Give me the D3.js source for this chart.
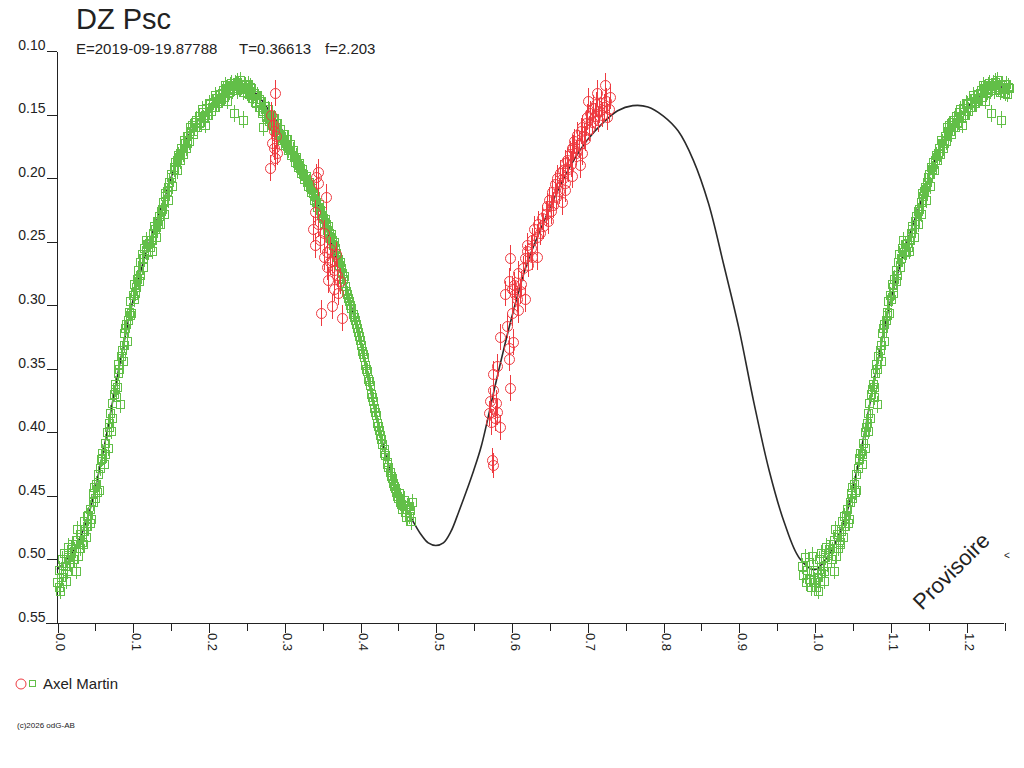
<!DOCTYPE html>
<meta charset="utf-8">
<script src="https://d3js.org/d3.v7.min.js"></script>
<style>
  body { margin: 0; background: #fff; }
  text { font-family: Arial, "Liberation Sans", sans-serif; fill: #222; }
</style>
<div id="divsvg"></div>
<script>

// ---- data ----
var title = "DZ Psc";
var subtitle = ["E=2019-09-19.87788", "T=0.36613", "f=2.203"];
var observer = "Axel Martin";
var watermark = "Provisoire";
var yTicks = [0.10, 0.15, 0.20, 0.25, 0.30, 0.35, 0.40, 0.45, 0.50, 0.55];
var xMajor = [0.0, 0.1, 0.2, 0.3, 0.4, 0.5, 0.6, 0.7, 0.8, 0.9, 1.0, 1.1, 1.2];
var xMinor = [0.05, 0.15, 0.25, 0.35, 0.45, 0.55, 0.65, 0.75, 0.85, 0.95, 1.05, 1.15, 1.25];

// fitted light curve (one cycle), repeated past phase 1
var curvePhase = [0.00, 0.02, 0.04, 0.06, 0.08, 0.10, 0.12, 0.14, 0.16, 0.18, 0.20, 0.22, 0.24, 0.26, 0.28, 0.30,
  0.32, 0.34, 0.36, 0.38, 0.40, 0.42, 0.44, 0.46, 0.47, 0.48, 0.49, 0.50, 0.51, 0.52, 0.53, 0.54, 0.55, 0.56,
  0.58, 0.60, 0.62, 0.64, 0.66, 0.68, 0.70, 0.72, 0.74, 0.76, 0.78, 0.80, 0.82, 0.84, 0.86, 0.88, 0.90, 0.92,
  0.94, 0.96, 0.98, 1.00];
var curveMag = [0.508, 0.495, 0.468, 0.418, 0.355, 0.297, 0.254, 0.219, 0.184, 0.160, 0.145, 0.134, 0.128, 0.132, 0.147, 0.165,
  0.187, 0.213, 0.248, 0.283, 0.328, 0.384, 0.430, 0.459, 0.470, 0.480, 0.487, 0.489, 0.487, 0.478, 0.463, 0.447, 0.430, 0.411,
  0.359, 0.310, 0.268, 0.238, 0.211, 0.188, 0.170, 0.157, 0.147, 0.143, 0.144, 0.151, 0.163, 0.186, 0.220, 0.268, 0.318, 0.377,
  0.430, 0.471, 0.499, 0.508];

// observer series (green squares)
var greenPhase = [0.000, 0.002, 0.003, 0.005, 0.006, 0.008, 0.009, 0.011, 0.012, 0.014, 0.015, 0.017, 0.018, 0.020, 0.021, 0.023,
  0.025, 0.026, 0.028, 0.030, 0.031, 0.033, 0.035, 0.036, 0.038, 0.040, 0.041, 0.043, 0.045, 0.047, 0.048, 0.050,
  0.052, 0.054, 0.055, 0.057, 0.059, 0.060, 0.062, 0.064, 0.066, 0.067, 0.069, 0.070, 0.072, 0.073, 0.075, 0.077,
  0.078, 0.080, 0.081, 0.083, 0.084, 0.086, 0.087, 0.089, 0.090, 0.092, 0.094, 0.095, 0.097, 0.098, 0.100, 0.102,
  0.103, 0.105, 0.107, 0.108, 0.110, 0.112, 0.113, 0.115, 0.117, 0.118, 0.120, 0.122, 0.124, 0.125, 0.127, 0.129,
  0.131, 0.132, 0.134, 0.136, 0.138, 0.140, 0.141, 0.143, 0.145, 0.147, 0.148, 0.150, 0.152, 0.154, 0.156, 0.158,
  0.160, 0.162, 0.164, 0.166, 0.168, 0.170, 0.172, 0.174, 0.176, 0.178, 0.180, 0.182, 0.185, 0.187, 0.189, 0.191,
  0.193, 0.195, 0.197, 0.199, 0.201, 0.203, 0.206, 0.208, 0.210, 0.212, 0.214, 0.216, 0.219, 0.221, 0.223, 0.225,
  0.227, 0.229, 0.231, 0.233, 0.235, 0.237, 0.239, 0.241, 0.243, 0.245, 0.246, 0.248, 0.250, 0.252, 0.254, 0.256,
  0.258, 0.260, 0.262, 0.264, 0.266, 0.268, 0.270, 0.272, 0.274, 0.276, 0.278, 0.280, 0.282, 0.284, 0.286, 0.288,
  0.290, 0.293, 0.295, 0.297, 0.299, 0.301, 0.303, 0.305, 0.307, 0.309, 0.312, 0.314, 0.316, 0.318, 0.320, 0.322,
  0.324, 0.326, 0.329, 0.331, 0.333, 0.335, 0.337, 0.339, 0.341, 0.343, 0.346, 0.348, 0.350, 0.352, 0.354, 0.356,
  0.358, 0.360, 0.362, 0.364, 0.366, 0.368, 0.370, 0.372, 0.374, 0.376, 0.378, 0.380, 0.382, 0.384, 0.386, 0.388,
  0.391, 0.393, 0.395, 0.397, 0.399, 0.401, 0.403, 0.405, 0.407, 0.409, 0.411, 0.413, 0.415, 0.417, 0.419, 0.421,
  0.423, 0.425, 0.427, 0.429, 0.431, 0.433, 0.435, 0.437, 0.440, 0.442, 0.444, 0.446, 0.448, 0.450, 0.452, 0.454,
  0.456, 0.458, 0.460, 0.462, 0.464, 0.466, 0.468,
  0.983, 0.985, 0.987, 0.989, 0.990, 0.992, 0.993, 0.995, 0.996, 0.998, 0.999,
  0.004, 0.013, 0.019, 0.027, 0.034, 0.039, 0.044, 0.049, 0.053, 0.058, 0.063, 0.068, 0.071, 0.076, 0.079, 0.082,
  0.088, 0.091, 0.096, 0.101, 0.104, 0.109, 0.114, 0.119, 0.123, 0.128, 0.133, 0.137, 0.142, 0.146, 0.151, 0.155,
  0.159, 0.163, 0.167, 0.171, 0.175, 0.179, 0.184, 0.188, 0.192, 0.196, 0.200, 0.205, 0.209, 0.213, 0.218, 0.222,
  0.226, 0.230, 0.234, 0.238, 0.242, 0.247, 0.251, 0.255, 0.259, 0.263, 0.267, 0.271, 0.275, 0.279, 0.283, 0.287,
  0.291, 0.296, 0.300, 0.304, 0.308, 0.313, 0.317, 0.321, 0.325, 0.330, 0.334, 0.338, 0.342, 0.347, 0.351, 0.355,
  0.359, 0.363, 0.367, 0.371, 0.375, 0.379, 0.383, 0.387, 0.392, 0.396, 0.400, 0.404, 0.408, 0.412, 0.416, 0.420,
  0.424, 0.428, 0.432, 0.436, 0.441, 0.445, 0.449, 0.453, 0.457, 0.461, 0.465, 0.467];
var greenMag = [0.518, 0.522, 0.508, 0.514, 0.500, 0.511, 0.495, 0.505, 0.517, 0.498, 0.490, 0.503, 0.495, 0.488, 0.500, 0.493,
  0.509, 0.485, 0.497, 0.480, 0.491, 0.486, 0.478, 0.470, 0.482, 0.474, 0.465, 0.460, 0.468, 0.455, 0.448, 0.452,
  0.441, 0.433, 0.445, 0.428, 0.420, 0.416, 0.425, 0.408, 0.400, 0.412, 0.393, 0.385, 0.377, 0.389, 0.370, 0.362,
  0.372, 0.353, 0.346, 0.378, 0.340, 0.335, 0.344, 0.322, 0.318, 0.328, 0.312, 0.305, 0.297, 0.306, 0.292, 0.283,
  0.290, 0.279, 0.272, 0.281, 0.266, 0.260, 0.270, 0.255, 0.249, 0.258, 0.258, 0.251, 0.249, 0.257, 0.243, 0.240,
  0.246, 0.234, 0.230, 0.236, 0.224, 0.219, 0.228, 0.214, 0.210, 0.217, 0.203, 0.199, 0.206, 0.191, 0.187, 0.194,
  0.182, 0.186, 0.176, 0.181, 0.172, 0.176, 0.167, 0.171, 0.163, 0.158, 0.165, 0.156, 0.160, 0.151, 0.156, 0.148,
  0.153, 0.158, 0.145, 0.150, 0.142, 0.147, 0.140, 0.144, 0.137, 0.141, 0.134, 0.138, 0.131, 0.136, 0.129, 0.139,
  0.132, 0.127, 0.131, 0.149, 0.125, 0.131, 0.127, 0.123, 0.128, 0.132, 0.154, 0.127, 0.130, 0.126, 0.134, 0.129,
  0.137, 0.133, 0.140, 0.135, 0.144, 0.139, 0.147, 0.160, 0.143, 0.151, 0.146, 0.155, 0.150, 0.158, 0.153, 0.162,
  0.157, 0.166, 0.161, 0.170, 0.165, 0.174, 0.169, 0.178, 0.173, 0.182, 0.178, 0.187, 0.183, 0.191, 0.188, 0.196,
  0.193, 0.201, 0.198, 0.206, 0.203, 0.211, 0.208, 0.217, 0.214, 0.223, 0.220, 0.229, 0.226, 0.235, 0.232, 0.241,
  0.238, 0.247, 0.244, 0.253, 0.250, 0.259, 0.262, 0.268, 0.266, 0.275, 0.279, 0.285, 0.289, 0.294, 0.297, 0.302,
  0.307, 0.312, 0.315, 0.321, 0.324, 0.331, 0.336, 0.341, 0.347, 0.352, 0.358, 0.363, 0.370, 0.375, 0.381, 0.386,
  0.393, 0.398, 0.402, 0.409, 0.413, 0.418, 0.423, 0.427, 0.431, 0.436, 0.440, 0.444, 0.447, 0.452, 0.448, 0.456,
  0.460, 0.453, 0.463, 0.458, 0.466, 0.461, 0.455,
  0.505, 0.512, 0.498, 0.518, 0.508, 0.502, 0.515, 0.522, 0.497, 0.510, 0.516,
  0.525, 0.509, 0.492, 0.476, 0.488, 0.466, 0.471, 0.443, 0.447, 0.421, 0.417, 0.396, 0.399, 0.366, 0.364, 0.350,
  0.331, 0.315, 0.308, 0.295, 0.286, 0.276, 0.263, 0.252, 0.254, 0.238, 0.236, 0.226, 0.212, 0.207, 0.197, 0.193,
  0.186, 0.180, 0.170, 0.172, 0.160, 0.163, 0.154, 0.157, 0.146, 0.150, 0.141, 0.144, 0.135, 0.139, 0.133, 0.127,
  0.130, 0.125, 0.129, 0.124, 0.130, 0.126, 0.133, 0.128, 0.135, 0.141, 0.138, 0.149, 0.146, 0.152, 0.154, 0.159,
  0.160, 0.167, 0.169, 0.175, 0.178, 0.183, 0.188, 0.192, 0.197, 0.203, 0.207, 0.212, 0.219, 0.225, 0.231, 0.236,
  0.243, 0.249, 0.255, 0.264, 0.271, 0.277, 0.291, 0.300, 0.309, 0.318, 0.327, 0.338, 0.350, 0.360, 0.372, 0.384,
  0.395, 0.405, 0.416, 0.425, 0.434, 0.442, 0.450, 0.455, 0.457, 0.467, 0.458, 0.470];
var greenErr = 0.0065;

// second observer series (red circles)
var redPhase = [0.288, 0.283, 0.285, 0.287, 0.289, 0.284, 0.286, 0.290, 0.288, 0.281,
  0.342, 0.344, 0.345, 0.355, 0.340, 0.338, 0.345, 0.341, 0.347, 0.352, 0.356, 0.360, 0.358, 0.363, 0.366,
  0.370, 0.374, 0.371, 0.349, 0.363, 0.376, 0.352, 0.357, 0.361, 0.366, 0.368,
  0.576, 0.574, 0.585, 0.570, 0.581, 0.572, 0.576, 0.598, 0.576, 0.581, 0.596, 0.596, 0.602, 0.585, 0.594, 0.600,
  0.609, 0.591, 0.605, 0.618, 0.596, 0.611, 0.609, 0.598, 0.618, 0.620, 0.627, 0.633, 0.620, 0.627, 0.633, 0.638,
  0.578, 0.573, 0.579, 0.600, 0.603, 0.607, 0.613, 0.615, 0.622, 0.625, 0.630, 0.635, 0.640, 0.642, 0.645, 0.647,
  0.648, 0.650, 0.652, 0.654, 0.655, 0.657, 0.659, 0.660, 0.662, 0.664, 0.666, 0.667, 0.668, 0.670, 0.671, 0.671,
  0.673, 0.675, 0.677, 0.678, 0.680, 0.680, 0.681, 0.683, 0.685, 0.687, 0.689, 0.690, 0.691, 0.693, 0.693, 0.695,
  0.697, 0.698, 0.700, 0.701, 0.702, 0.704, 0.706, 0.708, 0.710, 0.711, 0.713, 0.714, 0.716, 0.718, 0.720, 0.722,
  0.723, 0.725, 0.726, 0.728, 0.730];
var redMag = [0.133, 0.150, 0.158, 0.163, 0.167, 0.172, 0.176, 0.180, 0.184, 0.192,
  0.199, 0.204, 0.195, 0.215, 0.227, 0.240, 0.236, 0.253, 0.249, 0.243, 0.258, 0.266, 0.280, 0.265, 0.272,
  0.276, 0.281, 0.290, 0.306, 0.301, 0.310, 0.262, 0.270, 0.256, 0.287, 0.260,
  0.426, 0.422, 0.396, 0.385, 0.384, 0.375, 0.367, 0.365, 0.354, 0.348, 0.342, 0.334, 0.329, 0.325, 0.316, 0.306,
  0.304, 0.291, 0.291, 0.295, 0.281, 0.289, 0.275, 0.263, 0.263, 0.257, 0.262, 0.262, 0.253, 0.249, 0.246, 0.243,
  0.389, 0.392, 0.377, 0.287, 0.284, 0.295, 0.283, 0.271, 0.268, 0.255, 0.240, 0.236, 0.231, 0.238, 0.228, 0.222,
  0.234, 0.217, 0.226, 0.211, 0.221, 0.205, 0.215, 0.200, 0.210, 0.196, 0.219, 0.201, 0.194, 0.188, 0.204, 0.209,
  0.186, 0.193, 0.181, 0.189, 0.198, 0.176, 0.176, 0.171, 0.180, 0.166, 0.174, 0.190, 0.163, 0.160, 0.180, 0.167,
  0.169, 0.157, 0.152, 0.139, 0.161, 0.149, 0.156, 0.145, 0.151, 0.142, 0.133, 0.154, 0.147, 0.141, 0.150, 0.144,
  0.127, 0.139, 0.152, 0.146, 0.136];
var redErr = 0.010;

// ---- drawing ----
var W = 1024, H = 768;
var svg = d3.select("#divsvg").append("svg")
  .attr("width", W).attr("height", H);

var x = d3.scaleLinear().domain([0, 1.25]).range([57, 1004]);
var y = d3.scaleLinear().domain([0.10, 0.55]).range([51, 623]);

var green = "#62bf48", red = "#ee3a40", ink = "#222";

// title block
svg.append("text").attr("x", 76).attr("y", 29).style("font-size", "29px").text(title);
var subX = [76, 239, 325];
svg.selectAll(".sub").data(subtitle).join("text")
  .attr("x", function(d, i) { return subX[i]; })
  .attr("y", 54).style("font-size", "15px").text(function(d) { return d; });

// y axis
var yAxis = svg.append("g").attr("transform", "translate(56.5,0)")
  .style("shape-rendering", "crispEdges")
  .call(d3.axisLeft(y).tickValues(yTicks).tickSize(10).tickSizeOuter(0).tickFormat(d3.format(".2f")));
yAxis.select(".domain").attr("stroke", ink);
yAxis.selectAll("line").attr("stroke", ink);
yAxis.selectAll("text").attr("x", -11).attr("dy", "-0.12em")
  .style("font-size", "14px").style("font-family", "Arial, 'Liberation Sans', sans-serif").attr("fill", ink);

// x axis
svg.append("line").attr("x1", 46).attr("x2", x(1.25)).attr("y1", 623.5).attr("y2", 623.5)
  .attr("stroke", ink).style("shape-rendering", "crispEdges");
var xAxisMajor = svg.append("g").attr("transform", "translate(0.5,623)")
  .style("shape-rendering", "crispEdges")
  .call(d3.axisBottom(x).tickValues(xMajor).tickSize(10).tickFormat(""));
xAxisMajor.select(".domain").remove();
xAxisMajor.selectAll("line").attr("stroke", ink);
var xAxisMinor = svg.append("g").attr("transform", "translate(0.5,623)")
  .style("shape-rendering", "crispEdges")
  .call(d3.axisBottom(x).tickValues(xMinor).tickSize(8).tickFormat(""));
xAxisMinor.select(".domain").remove();
xAxisMinor.selectAll("line").attr("stroke", ink);

svg.selectAll(".xl").data(xMajor).join("text")
  .attr("transform", function(d) { return "translate(" + (x(d) - 1) + ",633) rotate(90)"; })
  .style("font-size", "13px").text(function(d) { return d.toFixed(1); });

// fitted curve, one cycle plus the repeat past phase 1
var curvePts = curvePhase.map(function(p, i) { return [p, curveMag[i]]; });
curvePhase.forEach(function(p, i) {
  if (p > 0 && p + 1 <= 1.25) curvePts.push([p + 1, curveMag[i]]);
});
curvePts.push([1.25, 0.129]);
var line = d3.line()
  .x(function(d) { return x(d[0]); })
  .y(function(d) { return y(d[1]); })
  .curve(d3.curveCatmullRom);
svg.append("path").datum(curvePts)
  .attr("d", line).attr("fill", "none").attr("stroke", "#2a2a2a").attr("stroke-width", 1.6);

// green points (plus their repeat past phase 1)
var gPts = [];
greenPhase.forEach(function(p, i) {
  gPts.push([p, greenMag[i]]);
  if (p + 1 <= 1.256) gPts.push([p + 1, greenMag[i]]);
});
var gG = svg.append("g").attr("stroke", green).attr("fill", "none").attr("stroke-width", 1)
  .style("shape-rendering", "crispEdges");
gG.selectAll("line").data(gPts).join("line")
  .attr("x1", function(d) { return Math.round(x(d[0])) + 0.5; })
  .attr("x2", function(d) { return Math.round(x(d[0])) + 0.5; })
  .attr("y1", function(d) { return y(d[1] - greenErr); })
  .attr("y2", function(d) { return y(d[1] + greenErr); });
gG.selectAll("rect").data(gPts).join("rect")
  .attr("x", function(d) { return Math.round(x(d[0])) - 3.5; })
  .attr("y", function(d) { return Math.round(y(d[1])) - 3.5; })
  .attr("width", 8).attr("height", 8);

// red points
var rPts = redPhase.map(function(p, i) { return [p, redMag[i]]; });
var rG = svg.append("g").attr("stroke", red).attr("fill", "none").attr("stroke-width", 1);
rG.selectAll("line").data(rPts).join("line")
  .style("shape-rendering", "crispEdges")
  .attr("x1", function(d) { return Math.round(x(d[0])) + 0.5; })
  .attr("x2", function(d) { return Math.round(x(d[0])) + 0.5; })
  .attr("y1", function(d) { return y(d[1] - redErr); })
  .attr("y2", function(d) { return y(d[1] + redErr); });
rG.selectAll("circle").data(rPts).join("circle")
  .attr("cx", function(d) { return Math.round(x(d[0])) + 0.5; })
  .attr("cy", function(d) { return Math.round(y(d[1])) + 0.5; })
  .attr("r", 5);

// watermark
svg.append("text").attr("transform", "translate(922,611) rotate(-45)")
  .style("font-size", "22px").attr("fill", "#333").text(watermark);
svg.append("text").attr("transform", "translate(1004,559)")
  .style("font-size", "10px").attr("fill", "#333").text("<");

// legend
svg.append("circle").attr("cx", 21).attr("cy", 684).attr("r", 5)
  .attr("fill", "none").attr("stroke", red);
svg.append("rect").attr("x", 29.5).attr("y", 680.5).attr("width", 6).attr("height", 6)
  .attr("fill", "none").attr("stroke", green).style("shape-rendering", "crispEdges");
svg.append("text").attr("x", 43).attr("y", 689).style("font-size", "15px").text(observer);

svg.append("text").attr("x", 17).attr("y", 728).style("font-size", "8px").text("(c)2026 odG-AB");

</script>
